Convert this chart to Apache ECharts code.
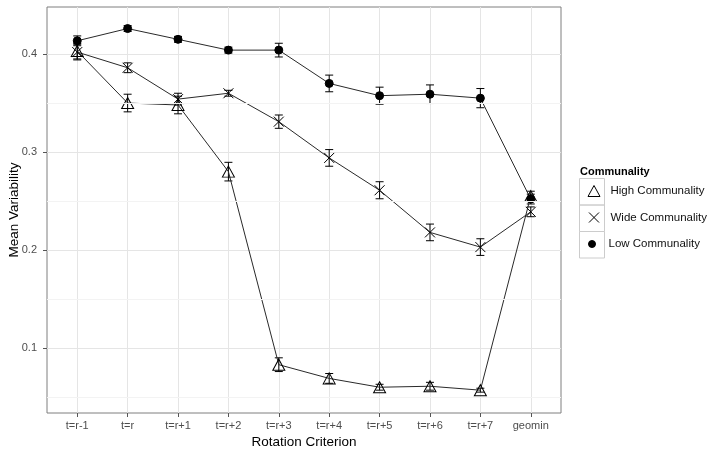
<!DOCTYPE html>
<html>
<head>
<meta charset="utf-8">
<script src="https://cdn.jsdelivr.net/npm/echarts@6/dist/echarts.min.js"></script>
<style>html,body{margin:0;padding:0;background:#fff}#c{width:714px;height:454px}</style>
</head>
<body>
<div id="c"></div>
<script>
const categories = ['t=r-1','t=r','t=r+1','t=r+2','t=r+3','t=r+4','t=r+5','t=r+6','t=r+7','geomin'];
const yTicks = [0.1, 0.2, 0.3, 0.4];
const yMinor = [0.05, 0.15, 0.25, 0.35];
const highVals = [0.403, 0.350, 0.348, 0.280, 0.083, 0.069, 0.060, 0.061, 0.057, 0.255];
const highErr  = [0.008, 0.009, 0.009, 0.0095, 0.007, 0.005, 0.003, 0.004, 0.002, 0.005];
const wideVals = [0.402, 0.386, 0.354, 0.360, 0.331, 0.294, 0.261, 0.218, 0.203, 0.239];
const wideErr  = [0.008, 0.005, 0.006, 0.003, 0.0068, 0.0085, 0.0087, 0.0085, 0.0085, 0.005];
const lowVals  = [0.4135, 0.426, 0.415, 0.404, 0.404, 0.370, 0.3575, 0.359, 0.355, 0.252];
const lowErr   = [0.005, 0.003, 0.003, 0.003, 0.007, 0.0085, 0.0087, 0.0095, 0.0098, 0.005];

const FONT = 'Liberation Sans, Arial, sans-serif';
const chart = echarts.init(document.getElementById('c'));
const idx = categories.map((_, i) => i);

function errData(vals, errs) {
  return vals.map((v, i) => [i, v, v - errs[i], v + errs[i]]);
}
function errSeries(vals, errs) {
  return {
    type: 'custom', silent: true, z: 3,
    data: errData(vals, errs),
    renderItem: function (params, api) {
      const x = api.value(0);
      const lo = api.coord([x, api.value(2)]);
      const hi = api.coord([x, api.value(3)]);
      const w = 4;
      const st = { stroke: '#000', lineWidth: 1 };
      return { type: 'group', children: [
        { type: 'line', shape: { x1: hi[0], y1: hi[1], x2: lo[0], y2: lo[1] }, style: st },
        { type: 'line', shape: { x1: hi[0] - w, y1: hi[1], x2: hi[0] + w, y2: hi[1] }, style: st },
        { type: 'line', shape: { x1: lo[0] - w, y1: lo[1], x2: lo[0] + w, y2: lo[1] }, style: st }
      ]};
    }
  };
}
const XPATH = 'path://M0,0L10,10M10,0L0,10';
function lineSeries(name, vals, symbol, size, fill) {
  return {
    name: name, type: 'line', z: 4,
    data: vals.map((v, i) => [i, v]),
    symbol: symbol, symbolSize: size, showSymbol: true,
    lineStyle: { color: '#2a2a2a', width: 1 },
    itemStyle: { color: fill, borderColor: '#000', borderWidth: 1 },
    emphasis: { disabled: true },
    animation: false
  };
}
const gridLineSeries = {
  type: 'line', data: [], z: 1, silent: true,
  markLine: {
    silent: true, symbol: 'none', label: { show: false }, animation: false,
    lineStyle: { color: '#f3f3f3', width: 1, type: 'solid' },
    data: yMinor.map(v => ({ yAxis: v }))
  }
};
function legendCfg(name, icon, w, h, top, left, padLeft) {
  return {
    data: [{ name: name, icon: icon }],
    left: left, top: top, padding: 0, itemWidth: w, itemHeight: h,
    selectedMode: false,
    itemStyle: { color: icon === 'circle' ? '#000' : 'none', borderColor: '#000', borderWidth: 1 },
    textStyle: { fontFamily: FONT, fontSize: 11.5, color: '#111', lineHeight: 14, padding: [0, 0, 0, padLeft] }
  };
}

chart.setOption({
  animation: false,
  grid: { left: 47, right: 153, top: 7, bottom: 41, show: true, borderColor: '#7f7f7f', borderWidth: 1, backgroundColor: '#fff', outerBoundsMode: 'none', containLabel: false },
  xAxis: {
    type: 'value', min: -0.6, max: 9.6,
    name: 'Rotation Criterion', nameLocation: 'middle', nameGap: 22, nameMoveOverlap: false,
    nameTextStyle: { fontFamily: FONT, fontSize: 13.5, color: '#000' },
    axisLine: { show: false, onZero: false },
    axisTick: { show: true, length: 4, lineStyle: { color: '#555' }, customValues: idx },
    axisLabel: { customValues: idx, margin: 7, fontFamily: FONT, fontSize: 11, color: '#4d4d4d',
      formatter: v => categories[Math.round(v)] },
    splitLine: { show: true, lineStyle: { color: '#e5e5e5', width: 1 } }
  },
  yAxis: {
    type: 'value', min: 0.0337, max: 0.448,
    name: 'Mean Variability', nameLocation: 'middle', nameGap: 26, nameMoveOverlap: false,
    nameTextStyle: { fontFamily: FONT, fontSize: 13.5, color: '#000' },
    axisLine: { show: false, onZero: false },
    axisTick: { show: true, length: 4, lineStyle: { color: '#555' }, customValues: yTicks },
    axisLabel: { customValues: yTicks, margin: 10, fontFamily: FONT, fontSize: 11, color: '#4d4d4d',
      formatter: v => v.toFixed(1) },
    splitLine: { show: true, lineStyle: { color: '#e5e5e5', width: 1 } }
  },
  legend: [
    legendCfg('High Communality', 'triangle', 12, 11, 183, 585.5, 5.5),
    legendCfg('Wide Communality', XPATH, 10, 10, 210, 586.5, 6.5),
    legendCfg('Low Communality', 'circle', 7, 7, 237, 588, 8)
  ],
  graphic: [
    { type: 'text', left: 580, top: 166, style: { text: 'Communality', fontFamily: FONT, fontSize: 11, fontWeight: 'bold', fill: '#000' } },
    { type: 'rect', shape: { x: 579.5, y: 178.5, width: 25, height: 26.5 }, style: { fill: 'none', stroke: '#cccccc', lineWidth: 1 }, z: -1 },
    { type: 'rect', shape: { x: 579.5, y: 205, width: 25, height: 26.5 }, style: { fill: 'none', stroke: '#cccccc', lineWidth: 1 }, z: -1 },
    { type: 'rect', shape: { x: 579.5, y: 231.5, width: 25, height: 26.5 }, style: { fill: 'none', stroke: '#cccccc', lineWidth: 1 }, z: -1 }
  ],
  series: [
    gridLineSeries,
    errSeries(highVals, highErr),
    errSeries(wideVals, wideErr),
    errSeries(lowVals, lowErr),
    lineSeries('High Communality', highVals, 'triangle', [12, 11], 'none'),
    lineSeries('Wide Communality', wideVals, XPATH, 10, 'none'),
    lineSeries('Low Communality', lowVals, 'circle', 8, '#000')
  ]
});
</script>
</body>
</html>
